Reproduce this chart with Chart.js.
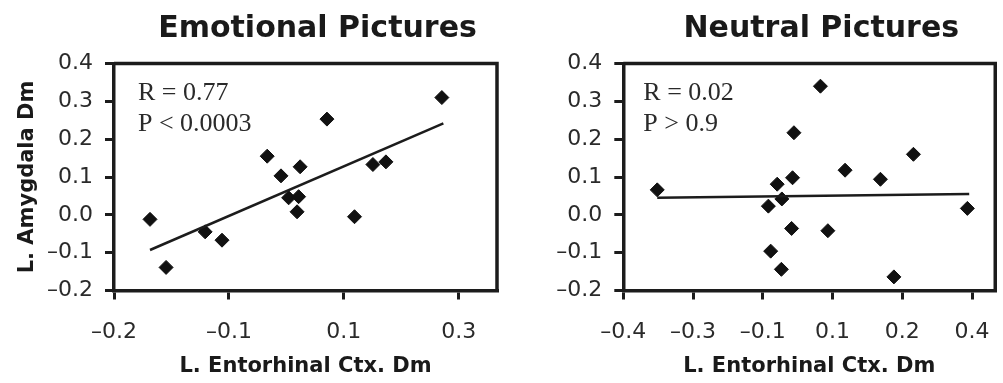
<!DOCTYPE html>
<html>
<head>
<meta charset="utf-8">
<script src="https://cdn.jsdelivr.net/npm/chart.js@4"></script>
<style>
  body { margin: 0; background: #fff; overflow: hidden; width: 1003px; height: 383px; position: relative; }
  .panel { position: absolute; top: 0; height: 383px; width: 505px; }
</style>
</head>
<body>
<div class="panel" style="left:0"><canvas id="emoChart"></canvas></div>
<div class="panel" style="left:505px"><canvas id="neuChart"></canvas></div>
<script>
// values
const emoX = [-0.153, -0.132, -0.081, -0.059, 0.000, 0.018, 0.043, 0.028, 0.041, 0.039, 0.078, 0.114, 0.138, 0.155, 0.228];
const emoY = [-0.012, -0.139, -0.045, -0.067, 0.155, 0.103, 0.127, 0.045, 0.048, 0.008, 0.253, -0.005, 0.133, 0.140, 0.310];
const emoFitX = [-0.153, 0.230];
const emoFitY = [-0.093, 0.242];

const neuX = [-0.327, -0.088, -0.069, -0.059, -0.036, -0.033, 0.024, -0.038, -0.083, -0.060, 0.040, 0.077, 0.153, 0.224, 0.182, 0.340];
const neuY = [0.066, 0.023, 0.081, 0.042, 0.098, 0.217, 0.340, -0.036, -0.096, -0.144, -0.042, 0.118, 0.094, 0.160, -0.164, 0.017];
const neuFitX = [-0.327, 0.344];
const neuFitY = [0.045, 0.055];

const yTicks = [-0.2, -0.1, 0, 0.1, 0.2, 0.3, 0.4];
const yTickLabels = ['–0.2', '–0.1', '0.0', '0.1', '0.2', '0.3', '0.4'];
const emoXTicks = [-0.2, -0.05, 0.1, 0.25];
const emoXTickLabels = ['–0.2', '–0.1', '0.1', '0.3'];
const neuXTicks = [-0.4, -0.25, -0.1, 0.05, 0.2, 0.35];
const neuXTickLabels = ['–0.4', '–0.3', '–0.1', '0.1', '0.2', '0.4'];

const ink = '#1c1c1c';
const textInk = '#2a2a2a';

// box around the plot + panel title + R/P text
const panelText = {
    id: 'panelText',
    afterDraw(chart, args, opts) {
        const c = chart.ctx;
        const a = chart.chartArea;
        c.save();
        c.strokeStyle = ink;
        c.lineWidth = 3.5;
        c.beginPath();
        c.moveTo(a.left, a.top);
        c.lineTo(a.right, a.top);
        c.lineTo(a.right, a.bottom);
        c.stroke();

        c.fillStyle = '#1a1a1a';
        c.font = 'bold 30px "DejaVu Sans"';
        c.textAlign = 'center';
        c.textBaseline = 'alphabetic';
        c.fillText(opts.title, (a.left + a.right) / 2 + 12, 37);

        c.fillStyle = textInk;
        c.font = '26px "Liberation Serif"';
        c.textAlign = 'left';
        opts.lines.forEach((t, i) => {
            c.fillText(t, a.left + opts.dx, a.top + 36 + i * 31.5);
        });
        c.restore();
    }
};

function toPoints(xs, ys) {
    return xs.map((x, i) => ({ x: x, y: ys[i] }));
}

function makeChart(id, cfg) {
    const tickFont = { family: 'DejaVu Sans', size: 22 };
    const titleFont = { family: 'DejaVu Sans', size: 21, weight: 'bold' };
    return new Chart(document.getElementById(id), {
        type: 'scatter',
        data: {
            datasets: [{
                data: toPoints(cfg.fitX, cfg.fitY),
                showLine: true,
                borderColor: ink,
                borderWidth: 2.5,
                pointRadius: 0
            }, {
                data: toPoints(cfg.xs, cfg.ys),
                pointStyle: 'rectRot',
                pointRadius: 7,
                pointBackgroundColor: '#111',
                pointBorderColor: '#111',
                pointBorderWidth: 1
            }]
        },
        options: {
            responsive: true,
            maintainAspectRatio: false,
            animation: false,
            events: [],
            layout: { padding: { top: 63.5, right: cfg.padRight, left: 0, bottom: 0 } },
            scales: {
                x: {
                    type: 'linear',
                    min: cfg.xMin,
                    max: cfg.xMax,
                    afterBuildTicks: s => { s.ticks = cfg.xTicks.map(v => ({ value: v })); },
                    afterFit: s => { s.height = 92.5; },
                    ticks: {
                        autoSkip: false, maxRotation: 0, padding: 20,
                        color: textInk, font: tickFont,
                        callback: (v, i) => cfg.xLabels[i]
                    },
                    grid: { drawOnChartArea: false, tickLength: 9, color: ink, lineWidth: 3 },
                    border: { display: true, color: ink, width: 3.5 },
                    title: { display: true, text: 'L. Entorhinal Ctx. Dm', color: '#1a1a1a', font: titleFont, padding: { top: 0, bottom: 3.4 } }
                },
                y: {
                    type: 'linear',
                    min: -0.2,
                    max: 0.4,
                    afterBuildTicks: s => { s.ticks = yTicks.map(v => ({ value: v })); },
                    afterFit: s => { s.width = cfg.yWidth; },
                    ticks: {
                        autoSkip: false, padding: 12,
                        color: textInk, font: tickFont,
                        callback: (v, i) => yTickLabels[i]
                    },
                    grid: { drawOnChartArea: false, tickLength: 9, color: ink, lineWidth: 3 },
                    border: { display: true, color: ink, width: 3.5 },
                    title: { display: cfg.yTitle != '', text: cfg.yTitle, color: '#1a1a1a', font: titleFont, padding: { top: 15.4, bottom: 0 } }
                }
            },
            plugins: {
                legend: { display: false },
                tooltip: { enabled: false },
                panelText: { title: cfg.title, lines: cfg.lines, dx: cfg.textDx }
            }
        },
        plugins: [panelText]
    });
}

makeChart('emoChart', {
    xs: emoX, ys: emoY, fitX: emoFitX, fitY: emoFitY,
    xMin: -0.2, xMax: 0.3, xTicks: emoXTicks, xLabels: emoXTickLabels,
    yWidth: 114, padRight: 5.8, yTitle: 'L. Amygdala Dm',
    title: 'Emotional Pictures', lines: ['R = 0.77', 'P < 0.0003'], textDx: 24
});

makeChart('neuChart', {
    xs: neuX, ys: neuY, fitX: neuFitX, fitY: neuFitY,
    xMin: -0.4, xMax: 0.4, xTicks: neuXTicks, xLabels: neuXTickLabels,
    yWidth: 118.3, padRight: 2.7, yTitle: '',
    title: 'Neutral Pictures', lines: ['R = 0.02', 'P > 0.9'], textDx: 20
});
</script>
</body>
</html>
